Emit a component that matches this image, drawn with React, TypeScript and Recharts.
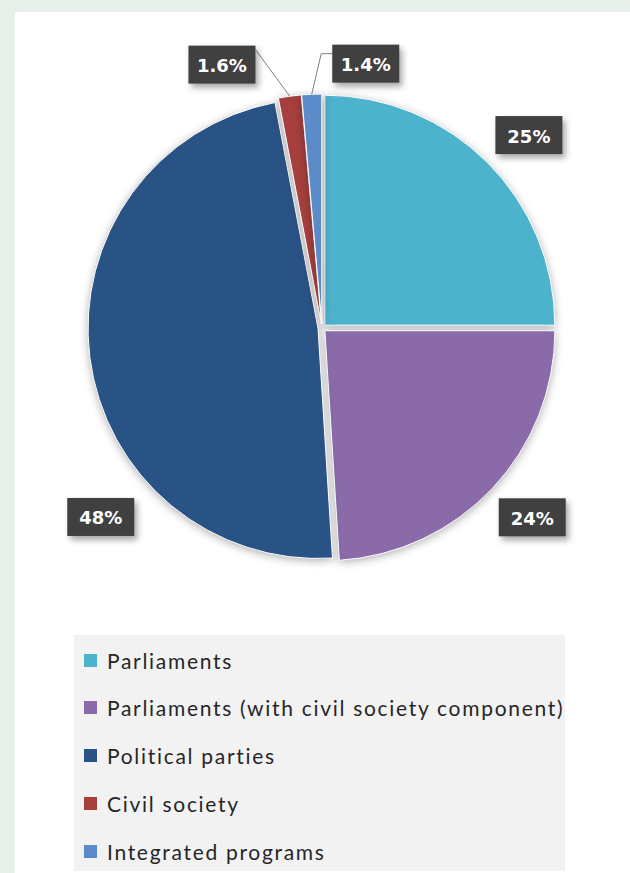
import React from 'react';
import { PieChart, Pie, Cell, Legend, Sector } from 'recharts';

const categories = [
  'Parliaments',
  'Parliaments (with civil society component)',
  'Political parties',
  'Civil society',
  'Integrated programs'
];
const shares = [25, 24, 48, 1.6, 1.4];
const shareLabels = ['25%', '24%', '48%', '1.6%', '1.4%'];
const colors = ['#4db2cc', '#8a6aa9', '#2a5385', '#a5403e', '#5b8cc9'];

// where each label box sits: polar angle (deg) and distance from the pie centre in radii
const labelSpots: [number, number][] = [
  [43, 1.23],
  [-42, 1.23],
  [-139.5, 1.265],
  [110.8, 1.225],
  [80.6, 1.165]
];

const data = categories.map((name, i) => ({ name, value: shares[i], label: shareLabels[i] }));

const RADIAN = Math.PI / 180;
const EXPLODE = 4;

const polar = (cx: number, cy: number, r: number, angle: number) => ({
  x: cx + r * Math.cos(-angle * RADIAN),
  y: cy + r * Math.sin(-angle * RADIAN)
});

// slices are pulled out a little from the centre, like the original
const ExplodedSlice = (props: any) => {
  const { cx, cy, midAngle } = props;
  const p = polar(cx, cy, EXPLODE, midAngle);
  return (
    <Sector
      {...props}
      cx={p.x}
      cy={p.y}
      stroke="#ffffff"
      strokeWidth={1}
      style={{ filter: 'drop-shadow(0px 2px 4px rgba(0,0,0,0.3))' }}
    />
  );
};

const renderLabel = (props: any) => {
  const { cx, cy, outerRadius, midAngle, index, percent } = props;
  const [ang, k] = labelSpots[index];
  const c = polar(cx, cy, outerRadius * k, ang);
  const w = 67;
  const h = 38;
  const left = c.x - w / 2;
  const top = c.y - h / 2;

  let leader = null;
  if (percent < 0.02) {
    const tip = polar(cx, cy, outerRadius + EXPLODE, midAngle);
    if (left > tip.x) {
      const y = top + 9;
      leader = (
        <polyline
          points={`${tip.x},${tip.y} ${left - 11},${y} ${left},${y}`}
          fill="none"
          stroke="#808080"
          strokeWidth={1}
        />
      );
    } else {
      leader = (
        <line x1={tip.x} y1={tip.y} x2={left + w} y2={top + 4} stroke="#808080" strokeWidth={1} />
      );
    }
  }

  return (
    <g key={`lbl-${index}`}>
      {leader}
      <rect
        x={left}
        y={top}
        width={w}
        height={h}
        fill="#404040"
        style={{ filter: 'drop-shadow(3px 4px 3px rgba(0,0,0,0.35))' }}
      />
      <text
        x={c.x}
        y={c.y + 1}
        textAnchor="middle"
        dominantBaseline="central"
        fill="#ffffff"
        fontFamily="DejaVu Sans"
        fontWeight="bold"
        fontSize={18}
      >
        {data[index].label}
      </text>
    </g>
  );
};

const LegendBox = () => (
  <div style={{ position: 'relative', background: '#f2f2f2', width: 491, height: 236 }}>
    {data.map((d, i) => (
      <div
        key={d.name}
        style={{
          position: 'absolute',
          left: 10,
          top: 25 + i * 47.8 - 12,
          height: 24,
          display: 'flex',
          alignItems: 'center',
          whiteSpace: 'nowrap'
        }}
      >
        <span style={{ display: 'inline-block', width: 13, height: 13, background: colors[i], marginRight: 10 }} />
        <span
          style={{
            fontFamily: 'Lato',
            fontSize: 21,
            letterSpacing: 1.7,
            color: '#262626'
          }}
        >
          {d.name}
        </span>
      </div>
    ))}
  </div>
);

const App: React.FC = () => (
  <div style={{ position: 'absolute', left: 0, top: 0, width: 630, height: 873, background: '#e8efeb' }}>
    <div style={{ position: 'absolute', left: 15, top: 12, width: 615, height: 861, background: '#ffffff' }}>
      <PieChart width={615} height={861} margin={{ top: 0, right: 0, bottom: 0, left: 0 }}>
        <Pie
          data={data}
          dataKey="value"
          nameKey="name"
          cx={307}
          cy={316}
          outerRadius={230}
          startAngle={90}
          endAngle={-270}
          shape={ExplodedSlice}
          label={renderLabel}
          labelLine={false}
          isAnimationActive={false}
        >
          {data.map((d, i) => (
            <Cell key={d.name} fill={colors[i]} />
          ))}
        </Pie>
        <Legend
          layout="vertical"
          verticalAlign="bottom"
          content={<LegendBox />}
          wrapperStyle={{ left: 59, top: 623, width: 491, height: 236 }}
        />
      </PieChart>
    </div>
  </div>
);

export default App;
